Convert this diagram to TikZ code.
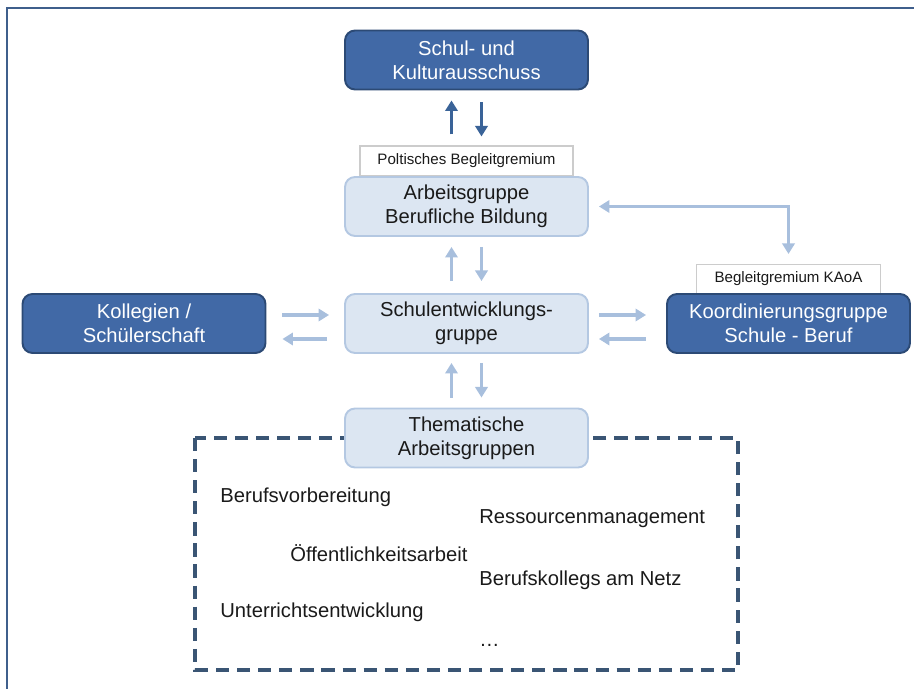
\documentclass[tikz,border=0pt]{standalone}
\usepackage{fontspec}
\setmainfont{Liberation Sans}
\usetikzlibrary{arrows.meta}
\definecolor{dkfill}{HTML}{4169A6}
\definecolor{dkline}{HTML}{2C4A75}
\definecolor{ltfill}{HTML}{DCE6F2}
\definecolor{ltline}{HTML}{B4C8E2}
\definecolor{ltarrow}{HTML}{A8BFDD}
\definecolor{dkarrow}{HTML}{3A6398}
\definecolor{framecol}{HTML}{3F5F8C}
\definecolor{dashcol}{HTML}{3A5574}
\definecolor{txtcol}{HTML}{1A1A1A}

\begin{document}
\begin{tikzpicture}[x=0.02cm,y=-0.02cm,
  every node/.style={font=\fontsize{11.5}{13.6}\selectfont, text=txtcol},
  dkbox/.style={draw=dkline, fill=dkfill, line width=1.1pt, rounded corners=0.2cm,
    minimum width=4.86cm, minimum height=1.18cm, align=center, inner sep=0pt, text=white},
  ltbox/.style={draw=ltline, fill=ltfill, line width=1.1pt, rounded corners=0.2cm,
    minimum width=4.86cm, minimum height=1.18cm, align=center, inner sep=0pt},
  gremium/.style={draw=gray!40, fill=white, line width=0.6pt, inner sep=0pt,
    font=\fontsize{8.6}{10}\selectfont},
  item/.style={anchor=west, inner sep=0pt},
  darr/.style={dkarrow, line width=2pt, -{Triangle[width=7pt,length=6pt]}},
  larr/.style={ltarrow, line width=2pt, -{Triangle[width=7pt,length=6pt]}},
  larrboth/.style={ltarrow, line width=2pt, {Triangle[width=7pt,length=6pt]}-{Triangle[width=7pt,length=6pt]}}]
\useasboundingbox (0,0) rectangle (914,689);
% outer frame
\draw[framecol, line width=1.2pt] (7,689) -- (7,8) -- (914,8);

% small label boxes
\node[gremium, minimum width=4.26cm, minimum height=0.6cm] (pbg) at (466.5,161) {Poltisches Begleitgremium};
\node[gremium, minimum width=3.68cm, minimum height=0.58cm] (kaoa) at (788.5,279) {Begleitgremium KAoA};

% boxes
\node[dkbox] (sk) at (466.5,60) {Schul- und\\Kulturausschuss};
\node[ltbox] (ab) at (466.5,206.5) {Arbeitsgruppe\\Berufliche Bildung};
\node[ltbox] (se) at (466.5,323.5) {Schulentwicklungs-\\gruppe};
\node[dkbox] (kol) at (144,323.5) {Kollegien /\\Schülerschaft};
\node[dkbox] (kg) at (788.5,323.5) {Koordinierungsgruppe\\Schule - Beruf};

% thematic groups
\draw[dashcol, line width=2pt, dash pattern=on 7.5pt off 4.5pt] (195,438) rectangle (738,670);
\node[ltbox] (ta) at (466.5,438) {Thematische\\Arbeitsgruppen};
\node[item] (bv) at (220,497) {Berufsvorbereitung};
\node[item] (rm) at (479,519) {Ressourcenmanagement};
\node[item] (oa) at (290,553) {Öffentlichkeitsarbeit};
\node[item] (bk) at (479,580) {Berufskollegs am Netz};
\node[item] (ue) at (220,612) {Unterrichtsentwicklung};
\node[item] (etc) at (479,645) {\dots};

% arrows
\draw[darr] ([xshift=-0.3cm,yshift=0.22cm]pbg.north) -- ([xshift=-0.3cm,yshift=-0.2cm]sk.south);
\draw[darr] ([xshift=0.3cm,yshift=-0.24cm]sk.south) -- ([xshift=0.3cm,yshift=0.18cm]pbg.north);
\draw[larr] ([xshift=-0.3cm,yshift=0.24cm]se.north) -- ([xshift=-0.3cm,yshift=-0.2cm]ab.south);
\draw[larr] ([xshift=0.3cm,yshift=-0.2cm]ab.south) -- ([xshift=0.3cm,yshift=0.24cm]se.north);
\draw[larr] ([xshift=-0.3cm,yshift=0.2cm]ta.north) -- ([xshift=-0.3cm,yshift=-0.18cm]se.south);
\draw[larr] ([xshift=0.3cm,yshift=-0.18cm]se.south) -- ([xshift=0.3cm,yshift=0.2cm]ta.north);
\draw[larr] ([xshift=0.32cm,yshift=0.17cm]kol.east) -- ([xshift=-0.3cm,yshift=0.17cm]se.west);
\draw[larr] ([xshift=-0.34cm,yshift=-0.31cm]se.west) -- ([xshift=0.32cm,yshift=-0.31cm]kol.east);
\draw[larr] ([xshift=0.2cm,yshift=0.17cm]se.east) -- ([xshift=-0.4cm,yshift=0.17cm]kg.west);
\draw[larr] ([xshift=-0.4cm,yshift=-0.31cm]kg.west) -- ([xshift=0.2cm,yshift=-0.31cm]se.east);
\draw[larrboth] ([xshift=0.2cm]ab.east) -| ([yshift=0.2cm]kaoa.north);
\end{tikzpicture}
\end{document}
